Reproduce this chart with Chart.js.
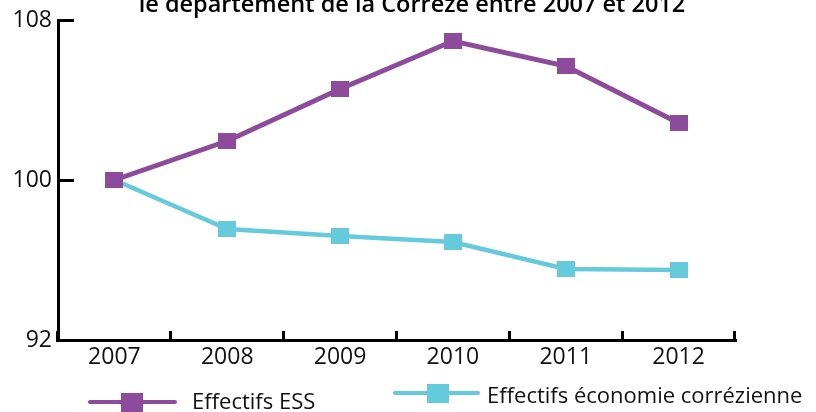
<!DOCTYPE html>
<html>
<head>
<meta charset="utf-8">
<script src="https://cdn.jsdelivr.net/npm/chart.js@4.4.1/dist/chart.umd.min.js"></script>
<style>
  body { margin: 0; background: #fff; overflow: hidden; }
  #wrap { position: relative; width: 816px; height: 412px; overflow: hidden; font-family: "Open Sans", sans-serif; }
  #chart { position: absolute; left: 0; top: 0; }
  #titre { position: absolute; left: 4px; width: 816px; top: -12px; text-align: center; font-size: 23.5px; font-weight: 600; line-height: 30px; color: #000; white-space: nowrap; }
  .leg { position: absolute; height: 30px; font-size: 22px; line-height: 30px; color: #111; white-space: nowrap; }
  .leg .ligne { position: absolute; height: 4px; border-radius: 2px; }
  .leg .carre { position: absolute; width: 22px; height: 19px; }
  .leg .txt { position: absolute; top: 0; }
</style>
</head>
<body>
<div id="wrap">
  <canvas id="chart" width="816" height="412"></canvas>
  <div id="titre">le département de la Corrèze entre 2007 et 2012</div>
</div>
<script>
// donnees (base 100 en 2007)
var annees = ['2007', '2008', '2009', '2010', '2011', '2012'];
var effectifsESS = [100, 101.95, 104.55, 106.95, 105.7, 102.85];
var effectifsEco = [100, 97.55, 97.2, 96.9, 95.55, 95.5];
var ticksY = [92, 100, 108];
var nomsSeries = ['Effectifs ESS', 'Effectifs économie corrézienne'];
var couleurs = ['#8c4b9b', '#66cadd'];

// petit carre pour les marqueurs
function carre(color, w, h) {
  var c = document.createElement('canvas');
  c.width = w; c.height = h;
  var cx = c.getContext('2d');
  cx.fillStyle = color;
  cx.fillRect(0, 0, w, h);
  return c;
}

var ctx = document.getElementById('chart');
var chart = new Chart(ctx, {
  type: 'line',
  data: {
    labels: annees,
    datasets: [
      {
        label: nomsSeries[0],
        data: effectifsESS,
        borderColor: couleurs[0],
        backgroundColor: couleurs[0],
        borderWidth: 5,
        pointStyle: carre(couleurs[0], 18, 16),
        fill: false,
        tension: 0
      },
      {
        label: nomsSeries[1],
        data: effectifsEco,
        borderColor: couleurs[1],
        backgroundColor: couleurs[1],
        borderWidth: 4.5,
        pointStyle: carre(couleurs[1], 18, 16),
        fill: false,
        tension: 0
      }
    ]
  },
  options: {
    responsive: false,
    animation: false,
    events: [],
    layout: { padding: { top: 20, right: 81, bottom: 42, left: 0 } },
    plugins: {
      legend: { display: false },
      title: { display: false },
      tooltip: { enabled: false }
    },
    scales: {
      x: {
        offset: true,
        grid: { offset: true, drawOnChartArea: false, drawTicks: true, tickLength: -9, color: '#000', lineWidth: 3 },
        border: { display: true, color: '#000', width: 3 },
        ticks: { color: '#111', padding: 13, font: { family: 'Open Sans', size: 23 } },
        afterFit: function(s) { s.height = 30; s.paddingLeft = 0; s.paddingRight = 0; }
      },
      y: {
        min: 92,
        max: 108,
        afterBuildTicks: function(s) { s.ticks = ticksY.map(function(v){ return { value: v }; }); },
        grid: { drawOnChartArea: false, drawTicks: true, tickLength: -16, color: '#000', lineWidth: 3 },
        border: { display: true, color: '#000', width: 3 },
        ticks: { color: '#111', padding: 22, font: { family: 'Open Sans', size: 23 } },
        afterFit: function(s) { s.width = 58; s.paddingTop = 0; s.paddingBottom = 0; }
      }
    }
  }
});

// legende html sous le graphique
var posLegende = [
  { left: 88, top: 385, lw: 89, ly: 15, mx: 33, my: 7.5, tx: 104 },
  { left: 393, top: 379, lw: 87, ly: 12, mx: 34, my: 4.5, tx: 94 }
];
var wrap = document.getElementById('wrap');
chart.data.datasets.forEach(function(ds, i) {
  var p = posLegende[i];
  var item = document.createElement('div');
  item.className = 'leg';
  item.style.left = p.left + 'px';
  item.style.top = p.top + 'px';
  item.innerHTML = '<div class="ligne" style="left:0;top:' + p.ly + 'px;width:' + p.lw + 'px;background:' + ds.borderColor + '"></div>' +
    '<div class="carre" style="left:' + p.mx + 'px;top:' + p.my + 'px;background:' + ds.borderColor + '"></div>' +
    '<span class="txt" style="left:' + p.tx + 'px">' + ds.label + '</span>';
  wrap.appendChild(item);
});
</script>
</body>
</html>
